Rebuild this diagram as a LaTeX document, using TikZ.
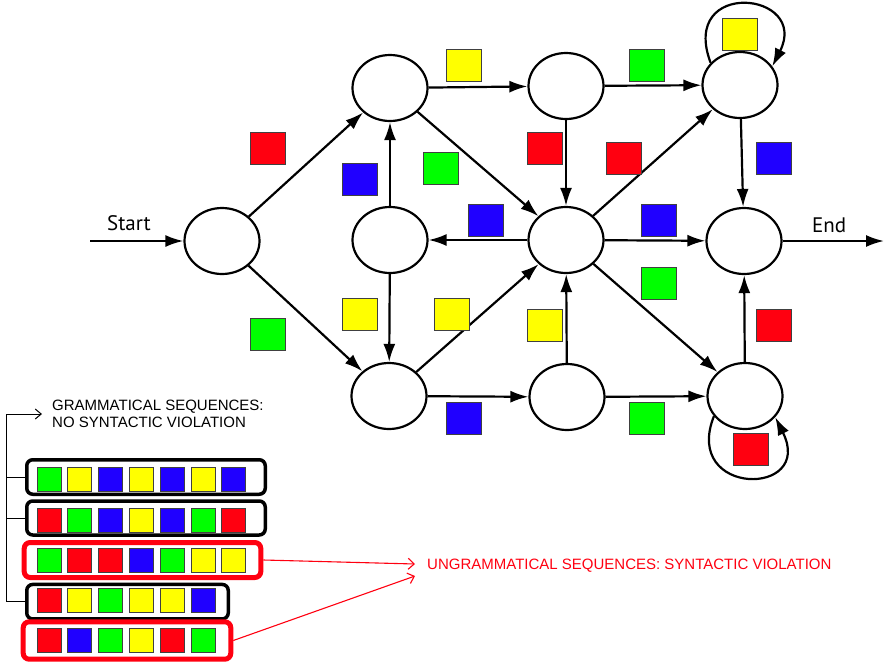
\documentclass[tikz,border=0pt]{standalone}
\usepackage{fontspec}
\setmainfont{Liberation Sans}
\newfontfamily\labelfont{PT Sans}
\usetikzlibrary{arrows.meta,shapes.geometric,calc}

\definecolor{sqred}{HTML}{FF0010}
\definecolor{sqgreen}{HTML}{00FF00}
\definecolor{sqblue}{HTML}{2000FF}
\definecolor{sqyellow}{HTML}{FFFF00}

\tikzset{
  state/.style={ellipse, draw, line width=2.2pt, minimum width=75pt, minimum height=66pt, inner sep=0pt},
  edge/.style={line width=2.2pt, -{Latex[length=18pt,width=12pt]}},
  tok/.style={draw=black!75, line width=1pt, minimum width=35pt, minimum height=32pt, inner sep=0pt},
  seqtok/.style={draw=black!75, line width=0.8pt, minimum width=24pt, minimum height=24pt, inner sep=0pt},
  seqbox/.style={draw, rounded corners=6pt, line width=3.5pt, inner sep=0pt, fill=white},
  badbox/.style={seqbox, draw=sqred, line width=5pt},
  caps/.style={font=\fontsize{15}{17}\selectfont, inner sep=0pt},
  bracket/.style={line width=1pt},
  redarrow/.style={draw=sqred, line width=1.1pt, -{Straight Barb[length=6pt,width=11pt]}}
}

\begin{document}
\begin{tikzpicture}[x=1pt,y=1pt,yscale=-1,xscale=1]
\useasboundingbox (0,0) rectangle (892,672);

%Shape: states
\node[state] (S) at (222,241) {};
\node[state] (A) at (390,88) {};
\node[state] (B) at (566,86) {};
\node[state] (C) at (740,85) {};
\node[state] (M) at (390,240) {};
\node[state] (X) at (566,240) {};
\node[state] (E) at (744,241) {};
\node[state] (L) at (389,396) {};
\node[state] (N) at (567,397) {};
\node[state] (R) at (745,396) {};

%Straight Lines: in and out
\coordinate (in) at (90,241);
\coordinate (out) at (884,241);
\draw[edge] (in) -- (S);
\draw[edge] (E) -- (out);

%Straight Lines: transitions
\draw[edge] (S) -- (A);
\draw[edge] (S) -- (L);
\draw[edge] (A) -- (B);
\draw[edge] (B) -- (C);
\draw[edge] (A) -- (X);
\draw[edge] (B) -- (X);
\draw[edge] (M) -- (A);
\draw[edge] (X) -- (M);
\draw[edge] (M) -- (L);
\draw[edge] (L) -- (X);
\draw[edge] (L) -- (N);
\draw[edge] (N) -- (X);
\draw[edge] (X) -- (C);
\draw[edge] (X) -- (E);
\draw[edge] (X) -- (R);
\draw[edge] (N) -- (R);
\draw[edge] (C) -- (E);
\draw[edge] (R) -- (E);

%Curve Lines: self loops
\draw[edge] (C.143) .. controls +(-32,-85) and +(38,-75) .. (C.30);
\draw[edge] (R.213) .. controls +(-32,81) and +(40,80) .. (R.-35);

%Shape: tokens on the transitions
\foreach \px/\py/\c [count=\i] in {268/148/sqred, 268/334/sqgreen, 464/65/sqyellow,
    360/179/sqblue, 441/168/sqgreen, 486/220/sqblue, 360/314/sqyellow, 452/314/sqyellow,
    464/418/sqblue, 545/148/sqred, 545/325/sqyellow, 647/65/sqgreen, 624/158/sqred,
    659/220/sqblue, 659/283/sqgreen, 647/418/sqgreen, 774/158/sqblue, 774/325/sqred,
    740/34/sqyellow, 751/449/sqred}
  \node[tok, fill=\c] (t\i) at (\px,\py) {};

% Text Node
\node[font=\labelfont\fontsize{21}{24}\selectfont, anchor=base west, inner sep=0pt] (startlbl) at (107,230) {Start};
% Text Node
\node[font=\labelfont\fontsize{21}{24}\selectfont, anchor=base west, inner sep=0pt] (endlbl) at (812,232) {End};

%Shape: sequence boxes
\node[seqbox, minimum width=238.5pt, minimum height=34.5pt] (seq1) at (146,477) {};
\node[seqbox, minimum width=238.5pt, minimum height=34pt] (seq2) at (146,518) {};
\node[badbox, minimum width=236.6pt, minimum height=35pt] (seq3) at (142.5,560) {};
\node[seqbox, minimum width=201.5pt, minimum height=34.5pt] (seq4) at (127.5,601.7) {};
\node[badbox, minimum width=207.6pt, minimum height=37.4pt] (seq5) at (127,640.5) {};

\foreach \c [count=\i] in {sqgreen,sqyellow,sqblue,sqyellow,sqblue,sqyellow,sqblue}
  \node[seqtok, fill=\c] (a\i) at ({49+30.8*(\i-1)},479) {};
\foreach \c [count=\i] in {sqred,sqgreen,sqblue,sqyellow,sqblue,sqgreen,sqred}
  \node[seqtok, fill=\c] (b\i) at ({49+30.8*(\i-1)},520) {};
\foreach \c [count=\i] in {sqgreen,sqred,sqred,sqblue,sqgreen,sqyellow,sqyellow}
  \node[seqtok, fill=\c] (c\i) at ({49+30.8*(\i-1)},560) {};
\foreach \c [count=\i] in {sqred,sqyellow,sqgreen,sqyellow,sqyellow,sqblue}
  \node[seqtok, fill=\c] (d\i) at ({49+30.8*(\i-1)},600) {};
\foreach \c [count=\i] in {sqred,sqblue,sqgreen,sqyellow,sqred,sqgreen}
  \node[seqtok, fill=\c] (e\i) at ({49+30.8*(\i-1)},640) {};

% Text Node
\node[caps, anchor=west, align=left] (gram) at (52,414) {GRAMMATICAL SEQUENCES:\\NO SYNTACTIC VIOLATION};
% Text Node
\node[caps, text=sqred, anchor=west] (ungram) at (427,566) {UNGRAMMATICAL SEQUENCES: SYNTACTIC VIOLATION};

%Straight Lines: bracket
\draw[bracket, -{Straight Barb[length=6pt,width=10pt]}] (seq4.west) -- ++(-19,0) |- ([xshift=-10pt]gram.west);
\draw[bracket] (seq1.west) -- ++(-19,0);
\draw[bracket] (seq2.west) -- ++(-19,0);

%Straight Lines: violations
\draw[redarrow] (seq3.east) -- ($(ungram.west)+(-12,-2)$);
\draw[redarrow] (seq5.east) -- ($(ungram.west)+(-12,10)$);

\end{tikzpicture}
\end{document}
